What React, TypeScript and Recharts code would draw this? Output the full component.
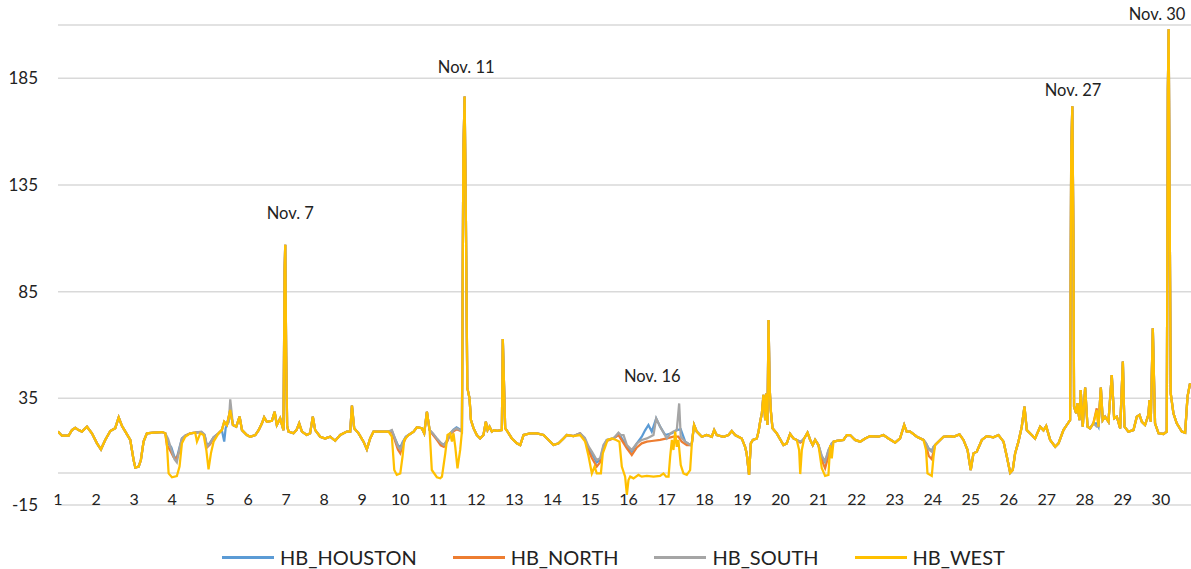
import {
  LineChart,
  Line,
  XAxis,
  YAxis,
  CartesianGrid,
  ReferenceLine,
  ReferenceDot,
} from "recharts";

type Pt = [number, number]; // [hour since Nov 1 00:00, $/MWh]

const DAYS = [1, 2, 3, 4, 5, 6, 7, 8, 9, 10, 11, 12, 13, 14, 15, 16, 17, 18, 19, 20, 21, 22, 23, 24, 25, 26, 27, 28, 29, 30];
const Y_TICKS = [-15, 35, 85, 135, 185];

const HUBS = ["HB_HOUSTON", "HB_NORTH", "HB_SOUTH", "HB_WEST"];
const COLORS = ["#5B9BD5", "#ED7D31", "#A5A5A5", "#FFC000"];

// HB_WEST is drawn on top and covers the others most of the month
const WEST: Pt[] = [
  [0, 19.4], [2.5, 17.5], [6.7, 17.5], [8.8, 20.1], [10.9, 21.2], [13, 20.1], [15.1, 19.4], [18.3, 21.7],
  [21.4, 18.6], [24.6, 13.9], [27.1, 11.1], [29.8, 15.5], [33, 19.7], [36.1, 21], [38.3, 26.1], [40.4, 22],
  [42.5, 19.4], [45.6, 15.5], [47.7, 6.1], [48.8, 2.5], [50.9, 3], [52.3, 6.1], [54, 14.7], [56.1, 18.6],
  [60.3, 18.9], [65.6, 19.2], [67.7, 18.6], [68.7, 13.9], [69.8, -0.2], [71.9, -2], [75, -1.4], [76.7, 3],
  [78.2, 13.9], [80.3, 17], [83.5, 18.6], [86.6, 18.9], [87.7, 14.7], [89.8, 18.6], [91.9, 17.8], [93.6, 10.8],
  [95, 1.7], [96.5, 9.2], [98.2, 14.7], [101.3, 18.6], [103.4, 20.1], [104.9, 24], [106.6, 22.5], [108.7, 29.5],
  [110.4, 22.5], [112.5, 21.7], [114.6, 26.4], [116.1, 20.1], [119.2, 17.8], [121.3, 17], [124.5, 17.8],
  [126.6, 20.1], [128.7, 23.3], [130.1, 26.1], [131.8, 24], [135, 24.5], [136.7, 28.7], [138.1, 22.5],
  [140.2, 25.6], [142.3, 20.1], [143, 95], [143.4, 107], [144, 55], [144.6, 22], [145.5, 19.4], [148.6, 18.6],
  [150.5, 20.1], [152.2, 23.3], [153.9, 19.4], [157, 17.8], [159.1, 18.6], [160.8, 26.4], [162.3, 20.1],
  [165.5, 17], [168.6, 16.2], [171.8, 17], [174.9, 15.1], [178.1, 17.8], [182.3, 19.4], [184.4, 19.4],
  [185.5, 31.6], [186.9, 21], [189.7, 18.6], [192.8, 14.7], [194.9, 11.1], [197, 16.2], [199.1, 19.4],
  [203.3, 19.4], [208.6, 19.4], [210.7, 17], [212.2, 1.4], [213.8, -0.9], [216, -0.2], [217.4, 7.6],
  [218.5, 15.5], [221.2, 17.8], [224.4, 19.4], [226.5, 21.4], [229.6, 21], [231.1, 18.6], [232.8, 28.7],
  [234.5, 20.1], [235.9, 1.4], [239.1, -2], [241.2, -2.5], [242.3, -1.7], [244.4, 9.2], [245.8, 17.8],
  [247.5, 18.6], [248.6, 14.7], [249.6, 18.6], [250.7, 12.3], [252.1, 2.2], [253.8, 10.8], [254.9, 19.4],
  [255.8, 150], [256.6, 176.5], [257.4, 120], [258.3, 40], [259.7, 35], [260.6, 24.8], [262.2, 21],
  [264.3, 17.8], [266.4, 16.2], [268.5, 17.8], [270, 24], [271.1, 20.1], [272.3, 21.7], [273.8, 19.4],
  [275.3, 20.1], [277, 19.8], [280.1, 20.1], [280.7, 62.8], [282.2, 21], [283.7, 19.4], [286.4, 16.2],
  [289.6, 13.9], [291.7, 13.1], [293.8, 17.8], [298, 18.6], [302.2, 18.6], [306.4, 17.8], [309.6, 15.5],
  [312.7, 13.1], [315.9, 13.9], [319, 16.2], [321.1, 17.8], [325.3, 17.3], [329.5, 17.8], [332.7, 14.7],
  [334.8, 8], [336.9, -0.2], [338.6, 3], [340, -0.2], [342.6, -0.2], [343.8, 9.2], [345.3, 12.3],
  [346.8, 15.5], [349.5, 16.2], [352.2, 15.5], [354.3, 14.7], [355.8, 3], [357.9, -1.7], [359, -10.3],
  [360, -3.3], [361.1, -1.7], [363.2, -2.5], [366.3, -0.9], [368.4, -1.7], [371.6, -1.4], [375.8, -1.7],
  [380, -1.4], [382.1, -0.2], [383.8, -1.7], [385.3, -1.7], [386.3, 7.6], [387.4, 15.5], [388.4, 10.8],
  [389.5, 19.4], [390.5, 12.3], [391.5, 15.5], [393, 3.7], [394.7, -0.2], [396.8, -0.9], [398.9, 1.4],
  [400, 13.9], [401.4, 22.5], [403.1, 19.4], [406.3, 17], [409.4, 17.8], [412.6, 17], [414.1, 20.1],
  [415.7, 17.8], [420, 17], [423.1, 17.8], [425.2, 19.7], [427.3, 17.8], [431.5, 16.2], [433.6, 12.3],
  [434.6, 9.2], [436.1, -0.9], [437.2, 13.9], [438.5, 15.5], [441, 16.2], [442.1, 19.4], [443.1, 24],
  [444.2, 28], [445.2, 36.6], [446.3, 24.8], [446.9, 37.3], [447.7, 22.5], [448.4, 71.7], [449.1, 40],
  [449.8, 29.5], [450.9, 21], [453.6, 18.6], [457.8, 13.1], [459.9, 13.9], [462, 18.3], [464.1, 16.2],
  [466.2, 15.5], [467.7, 10.8], [468.4, -0.5], [469.4, 10.8], [470.9, 16.2], [473, 18.9], [474.7, 15.5],
  [476.3, 13.1], [477.8, 15.5], [479.9, 13.1], [482, 2.2], [484.1, -1.4], [486.2, -0.9], [487.3, 13.1],
  [488.3, 6.9], [489.4, 14.7], [491.5, 15.1], [495.7, 15.5], [497.8, 17.8], [499.9, 17.8], [503, 15.5],
  [506.2, 14.7], [509.4, 16.2], [512.5, 17.3], [517.8, 17], [520.9, 17.8], [524.1, 16.2], [528.3, 14.2],
  [531.4, 16.2], [534, 22.5], [535.6, 19.4], [537.8, 19.4], [542, 17], [546.2, 15.5], [547.8, 10.8],
  [548.7, -0.2], [551.4, -1.4], [552.5, 7.6], [553.5, 13.1], [556.7, 15.5], [558.8, 17], [563, 17.3],
  [565.1, 17], [568.9, 18.1], [571.4, 15.5], [574, 10.8], [576, 1.4], [577.7, 9.2], [579.8, 10], [583, 15.5],
  [586.1, 17.3], [590.3, 16.7], [593.5, 17.8], [596.7, 14.7], [598.8, 7.6], [600.9, 0.1], [602.5, 1.4],
  [604, 9.2], [606.1, 14.7], [608.2, 21.7], [609.9, 31.1], [611.4, 20.1], [614.5, 17.8], [616.6, 16.2],
  [619.8, 21.7], [621.9, 20], [623.6, 22], [626.1, 15.5], [629.3, 12.3], [631.4, 13.9], [634.5, 20.1],
  [636.6, 22.5], [638.7, 24.8], [639.4, 150], [640.1, 171.9], [640.8, 110], [641.2, 31.1], [642.5, 28],
  [643.3, 32.7], [644.6, 24.8], [645.4, 38.9], [646.7, 21.7], [648.2, 40.1], [649.7, 21.7], [651.3, 20.9],
  [653.4, 23.3], [655.5, 29.5], [656.6, 21.7], [658.1, 40.1], [659.3, 24.8], [660.8, 26.4], [662.9, 24],
  [665, 45.9], [666.5, 25.6], [668.2, 26.4], [670.3, 20.9], [672, 52.2], [673, 21.7], [675.5, 19.4],
  [678.7, 20.1], [680.8, 26.4], [682.5, 27.2], [684, 24], [686, 22.5], [688.1, 27.2], [688.8, 34.2],
  [689.6, 24], [690.9, 67.8], [692.3, 23.3], [694.5, 18.6], [697.6, 18.3], [699.7, 19.4], [700.4, 180],
  [700.9, 208], [701.5, 130], [702.2, 37.3], [703.9, 28], [706, 23.3], [709.2, 19.4], [711.3, 18.9],
  [712.8, 35.8], [714.4, 42],
];

// stretches where the other hubs part from HB_WEST
const SOUTH_SEGS: Pt[][] = [
  [[67.7, 18.6], [69.5, 16], [71.5, 11], [73.5, 6.5], [75, 5], [76.5, 10.8], [78.2, 16.2], [80.3, 17.5]],
  [[86.6, 18.9], [88.5, 19.2], [90.5, 19.4], [92.5, 18], [94, 12.3], [96, 14], [98.2, 16.8], [101.3, 18.6]],
  [[107.8, 24], [108.7, 34.5], [110.4, 22.5]],
  [[208.6, 19.4], [210.7, 20.1], [212.5, 16.5], [214.5, 12.5], [216, 11], [217.5, 14], [219.5, 17], [221.2, 17.8]],
  [[234.5, 20.1], [236.5, 18.6], [239.1, 16.2], [241.5, 14.2], [243.5, 13.1], [245.8, 15.5], [247.5, 18.6], [249.6, 20.1], [251.5, 21], [253.8, 20.1], [254.9, 19.4]],
  [[329.5, 18.6], [332.5, 16.5], [334.8, 12.5], [336.9, 10], [340, 6.1], [342.1, 6.9], [344.2, 13.1], [346.3, 15.5], [350.5, 16.2], [353.7, 18.9], [355.2, 17.8], [356.9, 17.8], [359, 13.1], [362.1, 10.8], [365.3, 13.9], [368.4, 15.5], [371.6, 16.2], [373.7, 17], [375.8, 17.8], [377.5, 25.6], [380, 21.7], [384.2, 16.2], [386.5, 18.6], [388.4, 19.4], [390.5, 20.1], [392, 32.6], [393, 17], [395.8, 14.7], [399, 13.1], [400, 13.9]],
  [[466.2, 15.5], [468.4, 14.7], [469.4, 15], [470.9, 16.2]],
  [[479.9, 13.1], [482, 8], [484.1, 5.5], [486.2, 10.8], [488.3, 13.9], [489.4, 14.7]],
  [[546.2, 15.5], [547.8, 13.9], [549.5, 11], [551.4, 10], [552.5, 12.3], [553.5, 13.1]],
  [[653.4, 23.3], [655.5, 21.7], [656.6, 21.7]],
];

const HOUSTON_SEGS: Pt[][] = [
  [[67.7, 18.6], [68.7, 16.2], [69.5, 14], [71.5, 12], [73.5, 7.5], [75, 7], [76.5, 11.5], [78.2, 16.2], [80.3, 17.5]],
  [[86.6, 18.9], [88.5, 19.2], [90.5, 19.2], [92.5, 17.8], [94, 12.8], [96, 14.2], [98.2, 16.8], [101.3, 18.6]],
  [[103.4, 20.1], [104.9, 14.7], [105.8, 21], [106.6, 22.5]],
  [[208.6, 19.4], [210.7, 19.8], [212.5, 16.5], [214.5, 13], [216, 12], [217.5, 14.5], [219.5, 17], [221.2, 17.8]],
  [[234.5, 20.1], [236.5, 18.4], [239.1, 16], [241.5, 14], [243.5, 13.1], [245.8, 15.5], [247.5, 18.6], [249.6, 20.3], [251.5, 21.4], [253.8, 20.3], [254.9, 19.4]],
  [[329.5, 18.6], [332.5, 16], [334.8, 11.5], [336.9, 9], [340, 5], [342.1, 6], [344.2, 12.3], [346.3, 15.5], [350.5, 16.2], [353.7, 18], [355.2, 17], [359, 12.3], [362.1, 10], [365.3, 13.9], [368.4, 17], [370.5, 20], [372.6, 22.5], [374.7, 19.4], [377.5, 25.6], [380, 21.7], [383.2, 17.8], [387.4, 18.6], [390.5, 20.1], [393, 20.5], [395.8, 14.7], [399, 13.1], [400, 13.9]],
  [[466.2, 15.5], [468.4, 14.7], [469.4, 15], [470.9, 16.2]],
  [[479.9, 13.1], [482, 7.5], [484.1, 5], [486.2, 10.5], [488.3, 13.9], [489.4, 14.7]],
  [[546.2, 15.5], [547.8, 13.9], [549.5, 11.5], [551.4, 10.5], [552.5, 12.3], [553.5, 13.1]],
  [[653.4, 23.3], [655.5, 23.3], [656.6, 21.7]],
];

const NORTH_SEGS: Pt[][] = [
  [[67.7, 18.6], [68.7, 13.1], [70.5, 11], [72.9, 7.5], [74.6, 6.5], [76.5, 10], [78.2, 15.5], [80.3, 17.5]],
  [[86.6, 18.9], [88.5, 19], [90.5, 19], [92.5, 17.5], [94, 12], [96, 13.5], [98.2, 16.5], [101.3, 18.6]],
  [[208.6, 19.4], [210.7, 19.4], [212.5, 15.5], [214.5, 11], [216, 9.2], [217.5, 13], [219.5, 16.5], [221.2, 17.8]],
  [[234.5, 20.1], [236.5, 18], [239.1, 15.5], [241.5, 13], [243.5, 12.3], [245.8, 15], [247.5, 18.2], [249.6, 19.5], [251.5, 20.5], [253.8, 19.8], [254.9, 19.4]],
  [[329.5, 18.6], [332.5, 15.5], [334.8, 10.5], [336.9, 7], [340, 3], [342.1, 5], [344.2, 11.5], [346.3, 15], [350.5, 16.2], [353.7, 17.8], [355.2, 16], [359, 11.5], [362.1, 8.4], [365.3, 12], [368.4, 13.9], [371.6, 14.7], [374.7, 15], [380, 15.5], [384.2, 16.2], [388.4, 17], [391.5, 17], [393.6, 14.7], [396.8, 13.1], [399, 13.1], [400, 13.9]],
  [[466.2, 15.5], [468.4, 14.2], [469.4, 14.7], [470.9, 16.2]],
  [[479.9, 13.1], [482, 6], [484.1, 2.2], [486.2, 8], [488.3, 13], [489.4, 14.7]],
  [[546.2, 15.5], [547.8, 13], [549.5, 8], [551.4, 6.5], [552.5, 10], [553.5, 13.1]],
  [[653.4, 23.3], [655.5, 30.3], [656.6, 21.7]],
];

const NOTES = [
  { text: "Nov. 7", h: 146.6, v: 121.7 },
  { text: "Nov. 11", h: 257.6, v: 190.2 },
  { text: "Nov. 16", h: 375, v: 45.5 },
  { text: "Nov. 27", h: 640.6, v: 179.4 },
  { text: "Nov. 30", h: 693.6, v: 215.3 },
];

function withSegments(base: Pt[], segs: Pt[][]) {
  const inSeg = (h: number) => segs.some((s) => h >= s[0][0] && h <= s[s.length - 1][0]);
  const pts = base.filter(([h]) => !inSeg(h)).concat(...segs);
  pts.sort((a, b) => a[0] - b[0]);
  return pts.map(([h, v]) => ({ h, v }));
}

const SERIES = [
  withSegments(WEST, HOUSTON_SEGS),
  withSegments(WEST, NORTH_SEGS),
  withSegments(WEST, SOUTH_SEGS),
  withSegments(WEST, []),
];

const FONT = "Lato, 'Liberation Sans', sans-serif";
const TEXT = "#222";

function DayTick({ x, y, payload }: any) {
  return (
    <text x={x} y={y - 7} textAnchor="middle" dominantBaseline="central" fontSize={16} fill={TEXT} fontFamily={FONT}>
      {DAYS[Math.round(payload.value / 24)]}
    </text>
  );
}

if (typeof document !== "undefined") document.body.style.margin = "0";

export default function App() {
  return (
    <div style={{ position: "relative", width: 1191, height: 569, background: "#fff", fontFamily: FONT }}>
      <LineChart width={1191} height={518} margin={{ top: 25, right: 0, bottom: 12, left: 0 }}>
        <CartesianGrid vertical={false} stroke="#d9d9d9" strokeWidth={1.5} />
        <XAxis
          type="number"
          dataKey="h"
          domain={[0, 715]}
          ticks={DAYS.map((d) => (d - 1) * 24)}
          interval={0}
          allowDataOverflow
          axisLine={false}
          tickLine={false}
          tickSize={0}
          tickMargin={0}
          height={1}
          tick={<DayTick />}
        />
        <YAxis
          type="number"
          domain={[-15, 210]}
          ticks={Y_TICKS}
          interval={0}
          allowDataOverflow
          axisLine={false}
          tickLine={false}
          tickSize={6}
          tickMargin={14}
          width={58}
          tick={{ fontSize: 17, fill: TEXT, fontFamily: FONT }}
        />
        <ReferenceLine y={0} stroke="#d9d9d9" strokeWidth={1.5} />
        {SERIES.map((data, i) => (
          <Line
            key={HUBS[i]}
            data={data}
            dataKey="v"
            name={HUBS[i]}
            type="linear"
            stroke={COLORS[i]}
            strokeWidth={2.25}
            dot={false}
            activeDot={false}
            isAnimationActive={false}
          />
        ))}
        {NOTES.map((n) => (
          <ReferenceDot
            key={n.text}
            x={n.h}
            y={n.v}
            r={0.01}
            fill="none"
            stroke="none"
            ifOverflow="visible"
            label={{ value: n.text, position: "center", fontSize: 16.5, fill: TEXT, fontFamily: FONT }}
          />
        ))}
      </LineChart>
      <div
        style={{
          position: "absolute",
          left: 222,
          top: 545,
          height: 24,
          display: "flex",
          alignItems: "center",
          gap: 36,
          fontSize: 20,
          color: TEXT,
          whiteSpace: "nowrap",
        }}
      >
        {HUBS.map((name, i) => (
          <div key={name} style={{ display: "flex", alignItems: "center", flexShrink: 0 }}>
            <span style={{ display: "inline-block", flexShrink: 0, width: 52, height: 3, background: COLORS[i], marginRight: 6 }} />
            <span>{name}</span>
          </div>
        ))}
      </div>
    </div>
  );
}
